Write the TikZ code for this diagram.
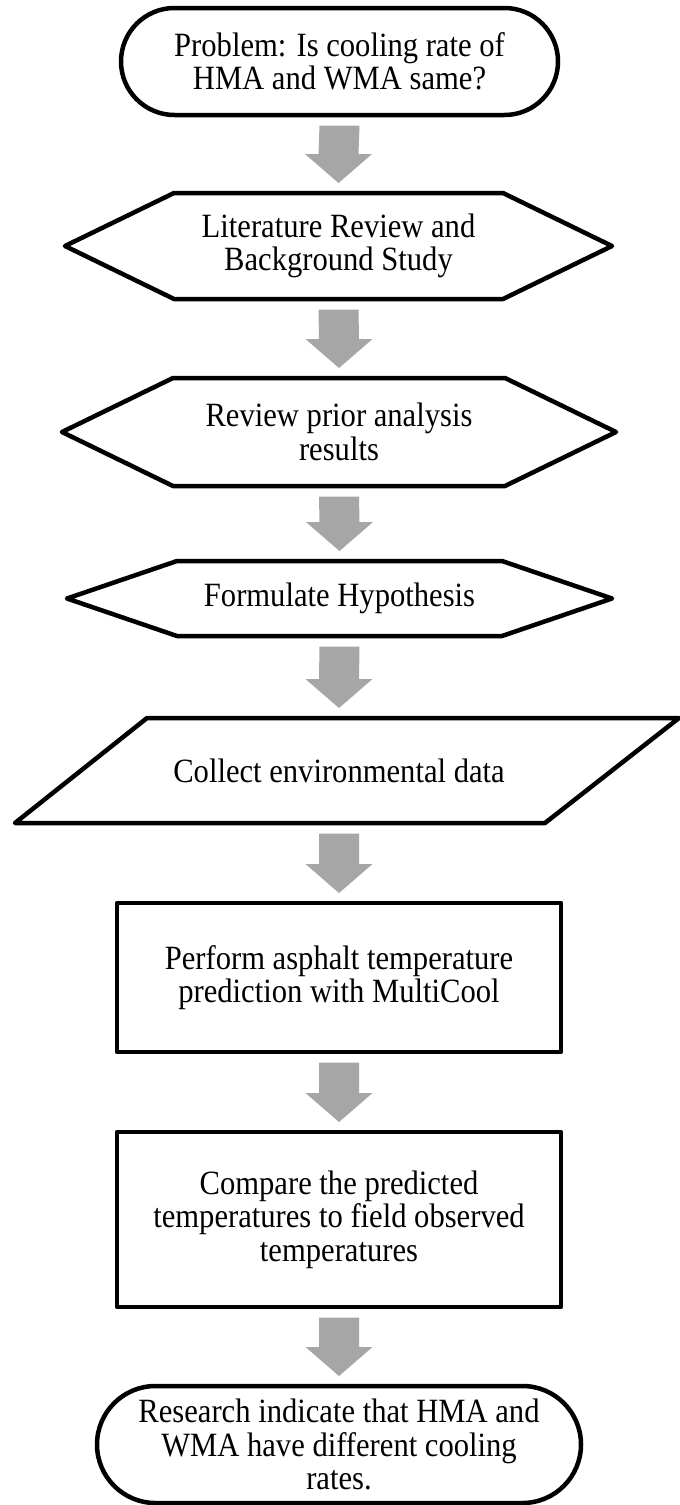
\documentclass[tikz,border=0pt]{standalone}
\usepackage{fontspec}
\setmainfont{Liberation Serif}[FakeStretch=0.9]
\usetikzlibrary{calc,shapes.misc}
\definecolor{arrowgray}{HTML}{A6A6A6}
\tikzset{
  outline/.style={draw=black, line width=4.5pt, line join=round},
  txt/.style={inner sep=0pt, outer sep=0pt, align=center,
    font=\fontsize{34pt}{33.5pt}\selectfont},
  terminal/.style={txt, outline, rounded rectangle},
  process/.style={txt, outline, rectangle},
}
\newcommand\flowarrow[2]{%
  \coordinate (s) at ($(#1.south)+(0,10.5)$);
  \coordinate (t) at ($(#2.north)+(0,-10)$);
  \coordinate (hb) at ($(t)+(0,-29)$);
  \fill[arrowgray] ($(s)+(-20,0)$) -- ($(s)+(20,0)$) -- ($(hb)+(20,0)$)
    -- ($(hb)+(33.5,0)$) -- (t) -- ($(hb)+(-33.5,0)$) -- ($(hb)+(-20,0)$) -- cycle;}
\begin{document}
\begin{tikzpicture}[x=1pt,y=-1pt]
\useasboundingbox (0,0) rectangle (680,1505);
\fill[white] (0,0) rectangle (680,1505);

\node[terminal, minimum width=437pt, minimum height=107pt] (start) at (339.5,61.5)
  {Problem: Is cooling rate of\\HMA and WMA same?};

\node[txt, minimum width=547pt, minimum height=106pt] (lit) at (338.5,246)
  {Literature Review and\\Background Study};
\draw[outline] (lit.west) -- ($(lit.north west)+(109,0)$) -- ($(lit.north east)+(-109,0)$)
  -- (lit.east) -- ($(lit.south east)+(-109,0)$) -- ($(lit.south west)+(109,0)$) -- cycle;

\node[txt, minimum width=554pt, minimum height=108pt] (prior) at (339,432)
  {Review prior analysis\\results};
\draw[outline] (prior.west) -- ($(prior.north west)+(111,0)$) -- ($(prior.north east)+(-111,0)$)
  -- (prior.east) -- ($(prior.south east)+(-111,0)$) -- ($(prior.south west)+(111,0)$) -- cycle;

\node[txt, minimum width=545pt, minimum height=75pt] (hyp) at (339.5,598.5)
  {Formulate Hypothesis};
\draw[outline] (hyp.west) -- ($(hyp.north west)+(110,0)$) -- ($(hyp.north east)+(-110,0)$)
  -- (hyp.east) -- ($(hyp.south east)+(-110,0)$) -- ($(hyp.south west)+(110,0)$) -- cycle;

\node[txt, minimum width=648pt, minimum height=105pt] (data) at (339,770.5)
  {Collect environmental data};
\draw[outline] (data.south west) -- ($(data.north west)+(132,0)$) -- ($(data.north east)+(16,0)$)
  -- ($(data.south east)+(-118,0)$) -- cycle;

\node[process, minimum width=444pt, minimum height=149pt] (pred) at (339,977.5)
  {Perform asphalt temperature\\prediction with MultiCool};

\node[process, minimum width=444pt, minimum height=175pt] (comp) at (339,1219.5)
  {Compare the predicted\\temperatures to field observed\\temperatures};

\node[terminal, minimum width=484pt, minimum height=117pt] (res) at (339,1444.5)
  {Research indicate that HMA and\\WMA have different cooling\\rates.};

\flowarrow{start}{lit}
\flowarrow{lit}{prior}
\flowarrow{prior}{hyp}
\flowarrow{hyp}{data}
\flowarrow{data}{pred}
\flowarrow{pred}{comp}
\flowarrow{comp}{res}
\end{tikzpicture}
\end{document}
